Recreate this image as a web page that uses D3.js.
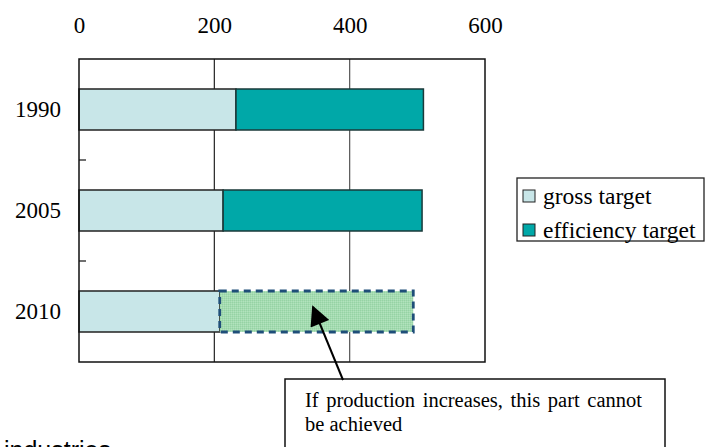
<!DOCTYPE html>
<html>
<head>
<meta charset="utf-8">
<script src="https://cdn.jsdelivr.net/npm/d3@7"></script>
<style>
  html, body { margin: 0; padding: 0; background: #fff; }
  svg { display: block; }
</style>
</head>
<body>
<script>
// ---- data ----
const categories = ["1990", "2005", "2010"];
const grossTarget = [232, 213, 208];
const efficiencyTotal = [509, 507, 494];
const achievable = [true, true, false];
const xTicks = [0, 200, 400, 600];
const seriesNames = ["gross target", "efficiency target"];
const seriesColors = ["#c8e6e8", "#00a8a8"];
const noteLines = ["If production increases, this part cannot", "be achieved"];
const footerText = "industries";

const W = 715, H = 447;
const svg = d3.select("body").append("svg").attr("width", W).attr("height", H);

const plot = {left: 79, right: 485, top: 59, bottom: 362};
const x = d3.scaleLinear().domain([0, 600]).range([plot.left, plot.right]);
const y = d3.scaleBand().domain(categories).range([plot.top, plot.bottom])
  .paddingInner(0.594).paddingOuter(0.297);
const step = y.step();

// pattern for unreachable part
const defs = svg.append("defs");
const pat = defs.append("pattern").attr("id", "dots").attr("patternUnits", "userSpaceOnUse")
  .attr("width", 2).attr("height", 2);
pat.append("rect").attr("width", 2).attr("height", 2).attr("fill", "#a4dbb1");
pat.append("rect").attr("x", 0).attr("y", 0).attr("width", 1).attr("height", 1).attr("fill", "#96d3a4");
pat.append("rect").attr("x", 1).attr("y", 1).attr("width", 1).attr("height", 1).attr("fill", "#b2e3bd");

defs.append("marker").attr("id", "arrow").attr("viewBox", "0 0 10 10")
  .attr("refX", 9).attr("refY", 5).attr("markerWidth", 11).attr("markerHeight", 10)
  .attr("markerUnits", "strokeWidth").attr("orient", "auto")
  .append("path").attr("d", "M0,0 L10,5 L0,10 z").attr("fill", "#000");

// gridlines
svg.append("g").selectAll("line").data([200, 400]).join("line")
  .attr("x1", d => x(d)).attr("x2", d => x(d))
  .attr("y1", plot.top).attr("y2", plot.bottom)
  .attr("stroke", (d, i) => i === 0 ? "#222" : "#555").attr("stroke-width", 1.2);

// bars
const rows = categories.map((c, i) => ({c, g: grossTarget[i], t: efficiencyTotal[i], ok: achievable[i]}));
const bars = svg.append("g");
bars.selectAll("rect.gross").data(rows).join("rect").attr("class", "gross")
  .attr("x", x(0)).attr("y", d => y(d.c))
  .attr("width", d => x(d.g) - x(0)).attr("height", y.bandwidth())
  .attr("fill", seriesColors[0]).attr("stroke", "#222").attr("stroke-width", 1.5);
bars.selectAll("rect.eff").data(rows.filter(d => d.ok)).join("rect").attr("class", "eff")
  .attr("x", d => x(d.g)).attr("y", d => y(d.c))
  .attr("width", d => x(d.t) - x(d.g)).attr("height", y.bandwidth())
  .attr("fill", seriesColors[1]).attr("stroke", "#1a3a3a").attr("stroke-width", 1.5);
bars.selectAll("rect.na").data(rows.filter(d => !d.ok)).join("rect").attr("class", "na")
  .attr("x", d => x(d.g)).attr("y", d => y(d.c))
  .attr("width", d => x(d.t) - x(d.g)).attr("height", y.bandwidth())
  .attr("fill", "url(#dots)").attr("stroke", "#1f4e79").attr("stroke-width", 2.8)
  .attr("stroke-dasharray", "7,5");

// plot border
svg.append("rect").attr("x", plot.left).attr("y", plot.top)
  .attr("width", plot.right - plot.left).attr("height", plot.bottom - plot.top)
  .attr("fill", "none").attr("stroke", "#111").attr("stroke-width", 1.5);

// band separator ticks (inside)
svg.append("g").selectAll("line").data(categories.slice(1)).join("line")
  .attr("x1", plot.left).attr("x2", plot.left + 7)
  .attr("y1", d => y(d) - y.paddingOuter() * step).attr("y2", d => y(d) - y.paddingOuter() * step)
  .attr("stroke", "#111").attr("stroke-width", 1.2);

const serif = "'Liberation Serif', 'Times New Roman', serif";

// top axis
const xAxis = svg.append("g").attr("transform", `translate(0,${plot.top})`)
  .call(d3.axisTop(x).tickValues(xTicks).tickSize(0).tickPadding(26));
xAxis.select(".domain").remove();
xAxis.selectAll("text").attr("font-family", serif).attr("font-size", 23).attr("fill", "#000");

// left axis
const yAxis = svg.append("g").attr("transform", `translate(${plot.left},0)`)
  .call(d3.axisLeft(y).tickSize(0).tickPadding(18));
yAxis.select(".domain").remove();
yAxis.selectAll("text").attr("font-family", serif).attr("font-size", 23).attr("fill", "#000");

// legend
const lg = svg.append("g");
lg.append("rect").attr("x", 517).attr("y", 178).attr("width", 187).attr("height", 63)
  .attr("fill", "#fff").attr("stroke", "#222").attr("stroke-width", 1.3);
seriesNames.forEach((n, i) => {
  const cy = 196 + i * 34;
  lg.append("rect").attr("x", 523).attr("y", cy - 6).attr("width", 12).attr("height", 12)
    .attr("fill", seriesColors[i]).attr("stroke", "#222").attr("stroke-width", 1);
  lg.append("text").attr("x", 543).attr("y", cy).attr("dy", "0.32em")
    .attr("font-family", serif).attr("font-size", 23.5).text(n);
});

// annotation box
svg.append("rect").attr("x", 285).attr("y", 379).attr("width", 380).attr("height", 90)
  .attr("fill", "#fff").attr("stroke", "#111").attr("stroke-width", 1.5);
noteLines.forEach((t, i) => {
  svg.append("text").attr("x", 305).attr("y", 407 + i * 24)
    .attr("font-family", serif).attr("font-size", 20.5)
    .attr("word-spacing", i === 0 ? 2.5 : 0).text(t);
});
svg.append("line").attr("x1", 343).attr("y1", 380).attr("x2", 313).attr("y2", 307)
  .attr("stroke", "#000").attr("stroke-width", 2).attr("marker-end", "url(#arrow)");

// footer text (cut off at the bottom edge, as in the reference)
svg.append("text").attr("x", 4).attr("y", 459)
  .attr("font-family", "'Liberation Sans', Arial, sans-serif").attr("font-size", 25).text(footerText);
</script>
</body>
</html>
